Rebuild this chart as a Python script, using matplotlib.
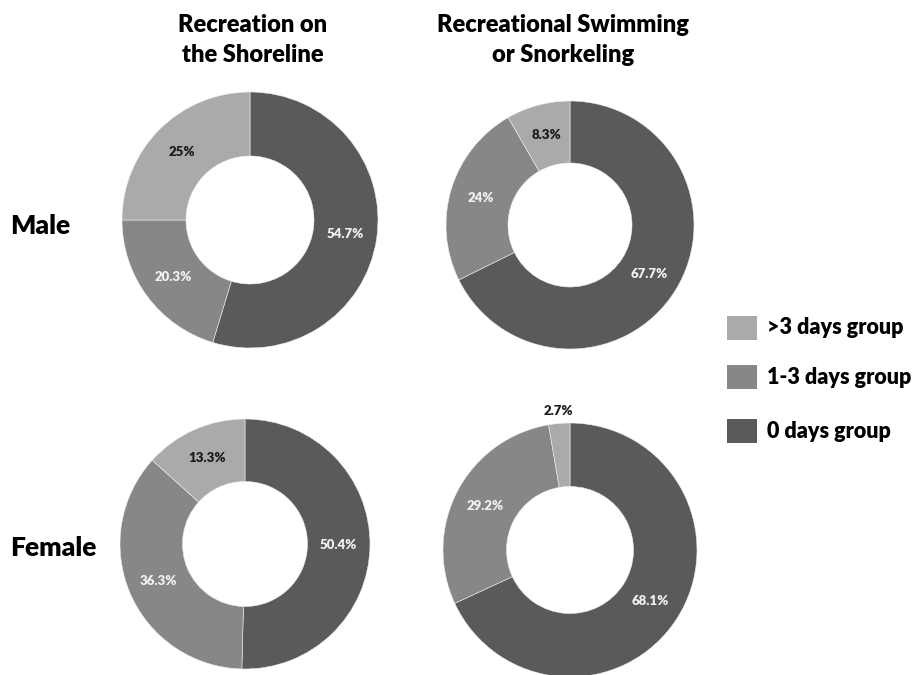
import matplotlib
matplotlib.use("Agg")
import matplotlib.pyplot as plt
from matplotlib.patches import Rectangle
import numpy as np

plt.rcParams['font.family'] = ['Lato', 'DejaVu Sans']

# data: order is 0 days, 1-3 days, >3 days (clockwise from 12 o'clock)
groups = ["0 days group", "1-3 days group", ">3 days group"]
male_shoreline = [54.7, 20.3, 25]
male_swimming = [67.7, 24, 8.3]
female_shoreline = [50.4, 36.3, 13.3]
female_swimming = [68.1, 29.2, 2.7]

titles = ["Recreation on\nthe Shoreline", "Recreational Swimming\nor Snorkeling"]
rows = ["Male", "Female"]

colors = ["#5a5a5a", "#878787", "#aaaaaa"]
label_colors = ["#f2f2f2", "#f2f2f2", "#1a1a1a"]

W, H = 918, 675
fig = plt.figure(figsize=(W / 100, H / 100), dpi=100)


def donut(values, cx, cy, r):
    ax = fig.add_axes([(cx - r) / W, (H - cy - r) / H, 2 * r / W, 2 * r / H])
    wedges, _ = ax.pie(values, colors=colors, startangle=90, counterclock=False,
                       radius=1, wedgeprops=dict(width=0.5, edgecolor="#eeeeee", linewidth=0.4))
    for w, v, tc in zip(wedges, values, label_colors):
        ang = np.deg2rad((w.theta1 + w.theta2) / 2)
        # tiny slices get their label outside the ring
        dist = 1.1 if v < 5 else 0.75
        col = "#1a1a1a" if v < 5 else tc
        ax.text(dist * np.cos(ang), dist * np.sin(ang), "%g%%" % v, ha="center", va="center",
                fontsize=9.5, fontweight="heavy", color=col)
    ax.set_xlim(-1, 1)
    ax.set_ylim(-1, 1)
    ax.set_aspect("equal")
    ax.axis("off")
    return ax


donut(male_shoreline, 250, 220, 128)
donut(male_swimming, 570, 225, 124)
donut(female_shoreline, 245, 544, 125)
donut(female_swimming, 570, 550, 127)

# column titles
fig.text(253 / W, 1 - 40 / H, titles[0], ha="center", va="center", fontsize=17,
         fontweight="heavy", linespacing=1.45)
fig.text(563 / W, 1 - 40 / H, titles[1], ha="center", va="center", fontsize=17,
         fontweight="heavy", linespacing=1.45)

# row labels
fig.text(10 / W, 1 - 226 / H, rows[0], ha="left", va="center", fontsize=19, fontweight="heavy")
fig.text(10 / W, 1 - 548 / H, rows[1], ha="left", va="center", fontsize=19, fontweight="heavy")

# legend
leg_y = [328, 377, 431]
for name, col, y in zip(groups[::-1], colors[::-1], leg_y):
    fig.patches.append(Rectangle((727 / W, 1 - (y + 12) / H), 30 / W, 24 / H,
                                 transform=fig.transFigure, facecolor=col, edgecolor="none"))
    fig.text(767 / W, 1 - y / H, name, ha="left", va="center", fontsize=15.5, fontweight="heavy")

fig.savefig("out.png", dpi=100, facecolor="white")
